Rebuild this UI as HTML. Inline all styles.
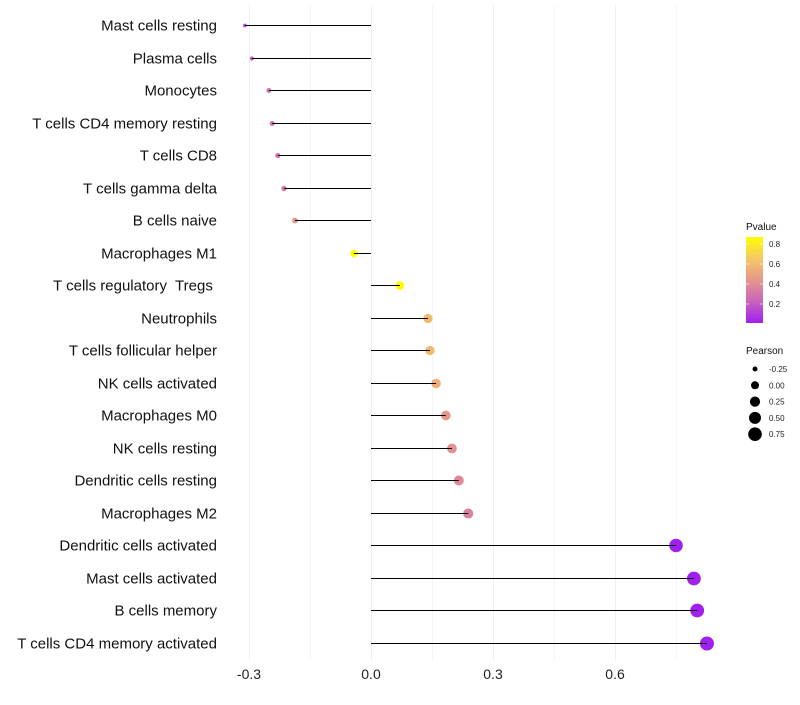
<!DOCTYPE html>
<html><head><meta charset="utf-8"><style>
body{margin:0;background:#fff;font-family:"Liberation Sans",sans-serif}
svg text{font-family:"Liberation Sans",sans-serif;white-space:pre}
</style></head><body>
<svg id="chart" width="800" height="700"></svg>
<script>
const categories=["Mast cells resting","Plasma cells","Monocytes","T cells CD4 memory resting","T cells CD8","T cells gamma delta","B cells naive","Macrophages M1","T cells regulatory  Tregs ","Neutrophils","T cells follicular helper","NK cells activated","Macrophages M0","NK cells resting","Dendritic cells resting","Macrophages M2","Dendritic cells activated","Mast cells activated","B cells memory","T cells CD4 memory activated"];
const pearson=[-0.31,-0.293,-0.251,-0.243,-0.229,-0.214,-0.187,-0.042,0.071,0.140,0.145,0.160,0.184,0.199,0.216,0.239,0.750,0.794,0.802,0.826];
const pvalues=[0.15,0.22,0.28,0.3,0.3,0.32,0.45,0.87,0.85,0.6,0.6,0.55,0.45,0.42,0.38,0.35,0.01,0.01,0.01,0.01];
const xTicks=[-0.3,0,0.3,0.6];
const xTickLabels=["-0.3","0.0","0.3","0.6"];
const pTicks=[0.2,0.4,0.6,0.8];
const sizeTicks=[-0.25,0,0.25,0.5,0.75];
const sizeTickLabels=["-0.25","0.00","0.25","0.50","0.75"];

const NS="http://www.w3.org/2000/svg";
const svg=document.getElementById('chart');
const xScale=v=>371+v*406.7;
const yScale=i=>Math.round(25+i*32.5)+0.5;
const rScale=p=>Math.sqrt(Math.max(1,16+40*p));
const pMin=0.01,pMax=0.87;
const stops=[[160,32,240],[200,100,190],[230,150,140],[245,200,100],[255,255,0]];
function color(p){let t=Math.max(0,Math.min(1,(p-pMin)/(pMax-pMin)))*(stops.length-1);let i=Math.min(Math.floor(t),stops.length-2),f=t-i;const c=stops[i].map((v,k)=>Math.round(v+(stops[i+1][k]-v)*f));return `rgb(${c.join(',')})`;}
function el(tag,attrs,parent){const e=document.createElementNS(NS,tag);for(const k in attrs)e.setAttribute(k,attrs[k]);(parent||svg).appendChild(e);return e;}

// grid
[-0.15,0.15,0.45,0.75].forEach(v=>{const g=el('line',{x1:Math.round(xScale(v))+0.5,x2:Math.round(xScale(v))+0.5,y1:5,y2:660,stroke:'#f6f6f6','stroke-width':1});

});
xTicks.forEach((v,i)=>{const g=el('line',{x1:Math.round(xScale(v))+0.5,x2:Math.round(xScale(v))+0.5,y1:5,y2:660,stroke:'#efefef','stroke-width':1});


const t=el('text',{x:xScale(v),y:679,'text-anchor':'middle','font-size':14,fill:'#222'});t.textContent=xTickLabels[i];

});

categories.forEach((c,i)=>{
const y=yScale(i);
const t=el('text',{x:217,y:y+5,'text-anchor':'end','font-size':15,fill:'#111'});t.textContent=c;


const d=el('circle',{cx:xScale(pearson[i]),cy:y,r:rScale(pearson[i]),fill:color(pvalues[i])});


const s=el('line',{x1:xScale(0),x2:xScale(pearson[i]),y1:y,y2:y,stroke:'#000','stroke-width':1});


});

// color legend
const lt=el('text',{x:746,y:230,'font-size':10,fill:'#111'});lt.textContent='Pvalue';


const defs=el('defs',{});const lg=el('linearGradient',{id:'pg',x1:0,y1:1,x2:0,y2:0},defs);
stops.forEach((s,i)=>el('stop',{offset:i/(stops.length-1),'stop-color':`rgb(${s.join(',')})`},lg));
const bar=el('rect',{x:746,y:237,width:17,height:86,fill:'url(#pg)'});


const cy=p=>323-(p-pMin)/(pMax-pMin)*86;
pTicks.forEach(p=>{el('line',{x1:746,x2:749,y1:cy(p),y2:cy(p),stroke:'#fff','stroke-width':0.6});el('line',{x1:760,x2:763,y1:cy(p),y2:cy(p),stroke:'#fff','stroke-width':0.6});
const t=el('text',{x:769,y:cy(p)+3,'font-size':8,fill:'#222'});t.textContent=p.toFixed(1);

});

// size legend
const st=el('text',{x:746,y:354,'font-size':10,fill:'#111'});st.textContent='Pearson';


sizeTicks.forEach((p,i)=>{const y=369+i*16.3;
const c=el('circle',{cx:755,cy:y,r:rScale(p),fill:'#000'});


const t=el('text',{x:769,y:y+3,'font-size':8,fill:'#222'});t.textContent=sizeTickLabels[i];

});
</script>
</body></html>
